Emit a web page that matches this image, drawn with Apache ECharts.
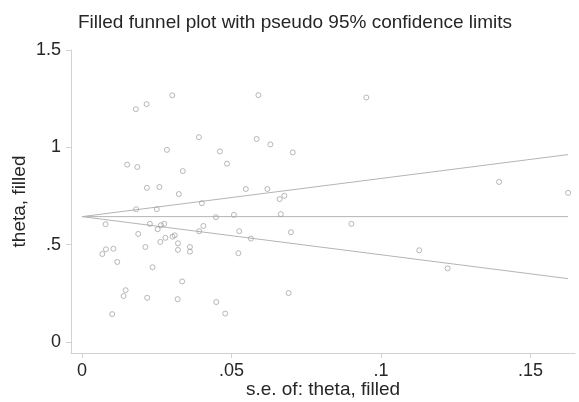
<!DOCTYPE html>
<html>
<head>
<meta charset="utf-8">
<script src="https://cdn.jsdelivr.net/npm/echarts@6/dist/echarts.min.js"></script>
<style>
  html, body { margin: 0; padding: 0; background: #fff; }
  #chart { width: 579px; height: 402px; }
</style>
</head>
<body>
<div id="chart"></div>
<script>
/* ------------------------------------------------------------------ */
/*                 Filled funnel plot (pseudo 95% limits)              */
/* ------------------------------------------------------------------ */

// standard error of each study (x)
const seValues = [
  0.0302, 0.0216, 0.0180, 0.0284, 0.0151, 0.0185, 0.0337, 0.0217, 0.0259, 0.0324,
  0.0181, 0.0250, 0.0079, 0.0227, 0.0264, 0.0275, 0.0253, 0.0188, 0.0303, 0.0310,
  0.0279, 0.0262, 0.0321, 0.0212, 0.0321, 0.0361, 0.0361, 0.0080, 0.0105, 0.0068,
  0.0118, 0.0236, 0.0335, 0.0146, 0.0139, 0.0218, 0.0320, 0.0101,
  0.0590, 0.0391, 0.0584, 0.0630, 0.0461, 0.0705, 0.0485, 0.0548, 0.0620, 0.0677,
  0.0661, 0.0401, 0.0448, 0.0508, 0.0665, 0.0406, 0.0392, 0.0526, 0.0699, 0.0565,
  0.0523, 0.0691, 0.0449, 0.0479,
  0.0951, 0.1395, 0.1626, 0.0901, 0.1128, 0.1223,
];

// effect size of each study (y)
const thetaValues = [
  1.267, 1.222, 1.196, 0.987, 0.911, 0.899, 0.878, 0.792, 0.796, 0.760,
  0.682, 0.682, 0.605, 0.607, 0.600, 0.607, 0.579, 0.555, 0.541, 0.548,
  0.535, 0.514, 0.507, 0.488, 0.473, 0.488, 0.464, 0.476, 0.479, 0.452,
  0.411, 0.384, 0.311, 0.266, 0.236, 0.227, 0.220, 0.143,
  1.268, 1.052, 1.043, 1.015, 0.979, 0.974, 0.916, 0.786, 0.786, 0.751,
  0.734, 0.713, 0.641, 0.653, 0.657, 0.596, 0.569, 0.569, 0.564, 0.531,
  0.456, 0.251, 0.205, 0.146,
  1.256, 0.822, 0.766, 0.607, 0.471, 0.378,
];

const pooledTheta = 0.644;
const zCrit = 1.96;

const xTicks = [0, 0.05, 0.1, 0.15];
const yTicks = [0, 0.5, 1, 1.5];

const fmtTick = (v) => (v === 0 ? '0' : String(v).replace(/^0\./, '.'));

const initFunnel = () => {
  const $chart = document.getElementById('chart');
  const chart = echarts.init($chart, null, { renderer: 'canvas' });

  const seMax = Math.max(...seValues);
  const points = seValues.map((se, i) => [se, thetaValues[i]]);
  const center = [[0, pooledTheta], [seMax, pooledTheta]];
  const upper = [[0, pooledTheta], [seMax, pooledTheta + zCrit * seMax]];
  const lower = [[0, pooledTheta], [seMax, pooledTheta - zCrit * seMax]];

  const font = 'Helvetica, "Liberation Sans", Arial, sans-serif';
  const textColor = '#262626';
  const axisGray = '#d2d2d2';
  const lineGray = '#b4b4b4';

  const limitLine = (name, data) => ({
    name,
    type: 'line',
    data,
    symbol: 'none',
    silent: true,
    lineStyle: { color: lineGray, width: 1 },
    z: 1,
  });

  chart.setOption({
    animation: false,
    title: {
      text: 'Filled funnel plot with pseudo 95% confidence limits',
      left: 73,
      top: 8,
      textStyle: {
        fontFamily: font,
        fontSize: 19,
        fontWeight: 'normal',
        color: textColor,
      },
    },
    grid: {
      left: 71,
      right: 4,
      top: 50,
      bottom: 49,
      outerBoundsMode: 'none',
      containLabel: false,
    },
    xAxis: {
      type: 'value',
      min: -0.00368,
      max: 0.1649,
      name: 's.e. of: theta, filled',
      nameLocation: 'middle',
      nameGap: 27,
      nameMoveOverlap: false,
      nameTextStyle: { fontFamily: font, fontSize: 19, color: textColor },
      axisLine: { show: true, onZero: false, lineStyle: { color: axisGray, width: 1 } },
      axisTick: {
        show: true,
        length: 5,
        customValues: xTicks,
        lineStyle: { color: axisGray },
      },
      axisLabel: {
        customValues: xTicks,
        formatter: fmtTick,
        margin: 9,
        fontFamily: font,
        fontSize: 18,
        color: textColor,
      },
      splitLine: { show: false },
    },
    yAxis: {
      type: 'value',
      min: -0.0567,
      max: 1.5,
      name: 'theta, filled',
      nameLocation: 'middle',
      nameGap: 42,
      nameMoveOverlap: false,
      nameTextStyle: { fontFamily: font, fontSize: 19, color: textColor },
      axisLine: { show: true, onZero: false, lineStyle: { color: axisGray, width: 1 } },
      axisTick: {
        show: true,
        length: 5,
        customValues: yTicks,
        lineStyle: { color: axisGray },
      },
      axisLabel: {
        customValues: yTicks,
        formatter: fmtTick,
        margin: 10,
        fontFamily: font,
        fontSize: 18,
        color: textColor,
      },
      splitLine: { show: false },
    },
    series: [
      limitLine('upper', upper),
      limitLine('pooled', center),
      limitLine('lower', lower),
      {
        name: 'studies',
        type: 'scatter',
        data: points,
        symbol: 'circle',
        symbolSize: 5,
        itemStyle: {
          color: 'rgba(255,255,255,0)',
          borderColor: '#9c9c9c',
          borderWidth: 0.9,
        },
        z: 2,
      },
    ],
  });
};

initFunnel();
</script>
</body>
</html>
